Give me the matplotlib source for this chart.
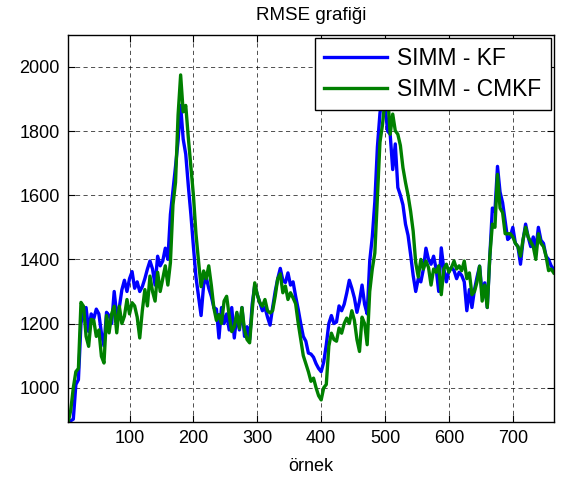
import numpy as np
import matplotlib
matplotlib.use("Agg")
import matplotlib.pyplot as plt

plt.rcParams['font.family'] = ['Liberation Sans', 'DejaVu Sans']

# sample index (every 4th sample)
samples = np.arange(4, 765, 4)

kf = [
    893, 897, 902, 1010, 1025, 1200, 1245, 1250, 1175, 1230,
    1215, 1245, 1230, 1170, 1130, 1235, 1225, 1200, 1300, 1225,
    1250, 1305, 1335, 1300, 1340, 1362, 1310, 1330, 1300, 1315,
    1340, 1370, 1395, 1370, 1320, 1410, 1380, 1395, 1435, 1400,
    1540, 1615, 1690, 1770, 1880, 1775, 1728, 1630, 1541, 1440,
    1345, 1285, 1225, 1320, 1345, 1310, 1285, 1250, 1245, 1155,
    1250, 1200, 1230, 1180, 1250, 1155, 1230, 1180, 1250, 1160,
    1190, 1150, 1260, 1320, 1290, 1265, 1240, 1250, 1220, 1195,
    1250, 1300, 1340, 1372, 1335, 1328, 1358, 1320, 1330, 1285,
    1245, 1200, 1160, 1145, 1108, 1105, 1095, 1075, 1060, 1050,
    1080, 1134, 1200, 1225, 1200, 1205, 1255, 1240, 1260, 1295,
    1335, 1310, 1280, 1235, 1270, 1320, 1260, 1230, 1395, 1470,
    1580, 1750, 1855, 1920, 1880, 1800, 1790, 1680, 1760, 1624,
    1600, 1570, 1510, 1475, 1415, 1350, 1300, 1340, 1330, 1370,
    1435, 1400, 1385, 1410, 1370, 1300, 1436, 1370, 1330, 1365,
    1375, 1365, 1340, 1360, 1350, 1330, 1240, 1306, 1250, 1306,
    1345, 1379, 1290, 1327, 1250, 1410, 1560, 1550, 1690, 1610,
    1577, 1520, 1462, 1470, 1500, 1450, 1440, 1385, 1460, 1510,
    1470, 1440, 1470, 1430, 1500, 1460, 1450, 1410, 1400, 1380,
    1369,
]

cmkf = [
    893, 930, 1000, 1050, 1060, 1266, 1254, 1160, 1129, 1213,
    1210, 1160, 1180, 1098, 1077, 1225, 1171, 1230, 1254, 1171,
    1254, 1200, 1223, 1275, 1230, 1265, 1255, 1220, 1155, 1240,
    1306, 1255, 1348, 1300, 1270, 1360, 1300, 1340, 1380, 1320,
    1390, 1570, 1640, 1850, 1975, 1860, 1880, 1780, 1690, 1600,
    1480, 1395, 1315, 1364, 1340, 1380, 1320, 1249, 1210, 1228,
    1200, 1270, 1285, 1225, 1175, 1190, 1235, 1185, 1250, 1180,
    1150, 1140, 1240, 1327, 1290, 1265, 1254, 1275, 1240, 1233,
    1240, 1285, 1340, 1355, 1296, 1317, 1275, 1296, 1280, 1262,
    1202, 1150, 1100, 1075, 1050, 1020, 1030, 1000, 975, 962,
    1000, 1010, 1130, 1170, 1150, 1145, 1186, 1170, 1200, 1217,
    1200, 1240, 1210, 1150, 1113, 1220, 1200, 1134, 1300, 1370,
    1420, 1590, 1765, 1820, 1900, 1920, 1790, 1853, 1801, 1790,
    1755, 1686, 1640, 1600, 1550, 1488, 1390, 1345, 1400, 1370,
    1395, 1375, 1320, 1370, 1360, 1380, 1290, 1370, 1385, 1360,
    1375, 1395, 1370, 1380, 1365, 1395, 1340, 1358, 1290, 1300,
    1330, 1379, 1270, 1320, 1250, 1410, 1510, 1500, 1665, 1560,
    1546, 1480, 1480, 1480, 1470, 1450, 1440, 1410, 1462, 1500,
    1470, 1455, 1440, 1400, 1480, 1450, 1440, 1410, 1365, 1370,
    1358,
]

series_labels = ['SIMM - KF', 'SIMM - CMKF']
x_ticks = [100, 200, 300, 400, 500, 600, 700]
y_ticks = [1000, 1200, 1400, 1600, 1800, 2000]

fig = plt.figure(figsize=(5.61, 4.84), dpi=100)
ax = fig.add_axes([0.121, 0.128, 0.866, 0.8])

ax.plot(samples, kf, color=(0, 0, 1), lw=2.4, label=series_labels[0])
ax.plot(samples, cmkf, color=(0, 0.5, 0), lw=2.4, label=series_labels[1])

ax.set_xlim(3.5, 764)
ax.set_ylim(893, 2100)
ax.set_xticks(x_ticks)
ax.set_yticks(y_ticks)
ax.tick_params(direction='in', length=5, width=0.8, top=True, right=True,
               labelsize=13, pad=6, colors='black')
ax.grid(True, color='black', linestyle=(0, (5, 4)), linewidth=0.6, alpha=0.8)
for s in ax.spines.values():
    s.set_linewidth(1.0)

ax.set_title('RMSE grafiği', fontsize=13.5, pad=11)
ax.set_xlabel('örnek', fontsize=13, labelpad=8)

leg = ax.legend(loc='upper right', fontsize=16.4, frameon=True, fancybox=False,
                edgecolor='black', framealpha=1, handlelength=2.75,
                handletextpad=0.45, borderaxespad=0.12, labelspacing=0.34,
                borderpad=0.42)
leg.get_frame().set_linewidth(1.0)

fig.savefig('out.png', dpi=100)
